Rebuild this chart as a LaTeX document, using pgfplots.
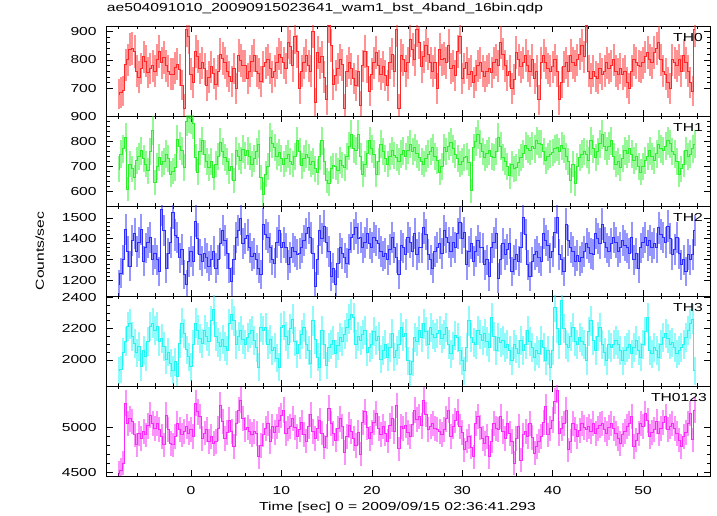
\documentclass[border=0pt]{standalone}
\usepackage{fontspec}
\setmainfont{Liberation Sans}[FakeStretch=1.35]
\usepackage{pgfplots}
\usepackage{pgfplotstable}
\pgfplotsset{compat=1.18}
\definecolor{cR}{RGB}{255,40,40}
\definecolor{cG}{RGB}{45,240,45}
\definecolor{cB}{RGB}{45,45,255}
\definecolor{cC}{RGB}{35,245,245}
\definecolor{cM}{RGB}{250,40,250}
\pgfplotstableread{
t a b c d e
-8 680 689 1180 1932 4485
-7.75 686 749 1236 1940 4520
-7.5 692 770 1300 2050 4598
-7.25 782 816 1445 2119 5275
-7 800 609 1340 2213 5050
-6.75 835 709 1268 2230 5100
-6.5 840 690 1390 2150 5070
-6.25 830 656 1425 2106 4918
-6 760 722 1340 2045 4805
-5.75 740 740 1380 2085 4930
-5.5 770 762 1445 1957 4880
-5.25 810 730 1292 2060 4960
-5 795 709 1356 2021 4918
-4.75 755 682 1380 2120 5020
-4.5 770 760 1405 2213 5143
-4.25 780 842 1300 2234 5050
-4 760 636 1330 2190 4990
-3.75 800 700 1300 2213 5050
-3.5 830 736 1244 2119 4975
-3.25 790 709 1540 2140 4900
-3 808 720 1440 2085 4805
-2.75 780 749 1260 2000 5143
-2.5 760 730 1330 2050 4980
-2.25 750 669 1380 1979 4825
-2 750 680 1525 1936 4805
-1.75 772 696 1418 1990 4900
-1.5 785 809 1405 1894 5050
-1.25 765 780 1308 2106 4975
-1 712 762 1350 2234 4918
-0.75 630 696 1228 2170 4960
-0.5 905 880 1180 2064 5012
-0.25 880 895 1290 2020 4940
0 750 890 1340 1957 4975
0.25 720 870 1292 2100 4900
0.5 830 736 1485 2234 5275
0.75 812 676 1400 2191 5180
1 770 760 1324 2140 5125
1.25 790 802 1292 2106 4880
1.5 768 749 1330 2191 4940
1.75 710 720 1308 2150 4975
2 740 696 1268 2120 4843
2.25 775 720 1300 2250 4900
2.5 752 656 1340 2319 4825
2.75 715 709 1260 2150 4843
3 760 740 1300 2110 4990
3.25 820 796 1378 2085 5255
3.5 805 760 1440 2130 5070
3.75 790 736 1390 2085 4880
4 760 720 1330 2060 4950
4.25 742 682 1260 2230 5087
4.5 725 700 1196 2290 4960
4.75 770 643 1300 2250 4787
5 700 762 1405 2100 5050
5.25 815 740 1440 2150 5200
5.5 798 722 1495 2190 5312
5.75 780 769 1378 2130 5106
6 780 745 1400 2100 4975
6.25 735 762 1418 2145 5000
6.5 760 740 1356 2170 4955
6.75 795 709 1316 2190 4920
7 815 730 1330 2125 4955
7.25 760 760 1300 2080 4937
7.5 752 789 1260 1955 4673
7.75 725 656 1228 2208 4800
8 775 589 1470 2190 4918
8.25 790 669 1420 2208 4990
8.5 800 700 1405 2100 5050
8.75 770 816 1356 2130 4843
9 740 790 1300 2060 5012
9.25 760 776 1284 2080 4950
9.5 790 740 1380 2010 5012
9.75 820 756 1440 1955 5087
10 808 730 1356 2208 5140
10.25 790 709 1380 2220 5200
10.5 770 730 1356 2150 4937
10.75 860 749 1276 2100 4990
11 845 720 1310 2200 5012
11.25 780 709 1356 2260 5106
11.5 880 740 1340 2120 5000
11.75 828 802 1324 2040 4900
12 700 760 1330 2100 4980
12.25 760 702 1356 2160 5060
12.5 790 730 1390 2208 4920
12.75 815 749 1425 2100 4850
13 780 735 1453 2060 5010
13.25 760 709 1405 1975 5150
13.5 900 720 1330 2250 4960
13.75 650 690 1172 2130 4880
14 825 676 1300 2017 4990
14.25 790 740 1440 1955 5080
14.5 810 802 1400 2190 4940
14.75 740 720 1461 2100 4780
15 660 643 1380 1965 4900
15.25 920 630 1340 2080 5220
15.5 850 690 1220 2100 5050
15.75 715 702 1260 2125 4930
16 745 700 1180 2040 4860
16.25 770 682 1284 2090 4990
16.5 800 722 1356 2145 5100
16.75 782 705 1330 2120 5010
17 630 696 1308 2160 4720
17.25 760 740 1284 2208 4900
17.5 790 780 1350 2260 5030
17.75 768 829 1405 2290 4960
18 735 770 1420 2270 4880
18.25 710 762 1453 2100 4800
18.5 760 829 1400 2150 4950
18.75 640 740 1405 2125 4700
19 780 669 1356 2160 5060
19.25 830 709 1380 2190 5180
19.5 775 750 1425 2050 5000
19.75 690 802 1378 2080 4880
20 750 770 1360 2100 4950
20.25 790 749 1405 2180 5060
20.5 825 669 1390 2125 5160
20.75 780 720 1378 2150 4990
21 750 789 1340 2006 4920
21.25 775 760 1316 2060 5010
21.5 745 730 1330 2100 4930
21.75 710 709 1300 2017 4850
22 790 740 1350 2080 5020
22.25 820 762 1405 2170 5100
22.5 760 745 1360 2017 4960
22.75 905 736 1308 2060 5250
23 630 720 1228 2100 4760
23.25 815 749 1366 2208 5012
23.5 800 762 1356 2150 4990
23.75 760 740 1324 2170 5030
24 790 765 1405 1995 4950
24.25 870 789 1380 1910 4900
24.5 835 760 1340 1990 5040
24.75 800 776 1425 2145 5200
25 905 750 1324 2120 5090
25.25 860 736 1360 2190 5125
25.5 775 720 1356 2145 5020
25.75 810 709 1453 2230 5312
26 850 730 1420 2180 5150
26.25 820 749 1324 2100 4975
26.5 790 760 1300 2208 5010
26.75 760 776 1260 2160 5050
27 790 740 1340 2145 4990
27.25 700 722 1360 2170 4975
27.5 835 676 1378 2190 4955
27.75 800 700 1330 2135 4920
28 805 776 1440 2160 4975
28.25 790 760 1405 2208 5100
28.5 850 780 1380 2100 5200
28.75 770 796 1340 2040 4900
29 780 770 1383 2090 5012
29.25 745 749 1360 2155 5080
29.5 830 730 1425 2145 5180
29.75 880 709 1477 2060 5012
30 735 720 1400 1995 4950
30.25 770 736 1430 1930 4750
30.5 790 740 1276 2080 4850
30.75 750 716 1340 2250 4900
31 760 602 1378 2145 4780
31.25 720 776 1292 2110 4673
31.5 745 800 1340 2100 5050
31.75 780 829 1390 2190 5125
32 790 790 1360 2160 5000
32.25 760 760 1356 2125 4880
32.5 742 736 1276 2170 4825
32.75 760 750 1300 2120 4900
33 770 762 1220 2080 4673
33.25 755 740 1356 2270 4850
33.5 790 736 1380 2150 5050
33.75 800 760 1425 2060 4990
34 780 816 1212 2145 4975
34.25 860 780 1300 2110 5125
34.5 820 736 1378 2125 4960
34.75 780 720 1324 2080 4880
35 745 700 1350 2100 5050
35.25 760 662 1378 2060 4930
35.5 700 709 1244 1995 4843
35.75 730 690 1300 2100 4598
36 825 696 1324 2070 4880
36.25 800 715 1292 2040 5012
36.5 775 736 1360 2125 4635
36.75 790 750 1502 2060 4918
37 815 782 1420 2100 4960
37.25 780 770 1276 2190 4900
37.5 760 762 1220 2120 5050
37.75 800 780 1290 2080 4890
38 735 770 1324 2017 4711
38.25 760 802 1340 2060 4787
38.5 660 790 1308 2040 4850
38.75 790 789 1292 2125 4900
39 815 760 1425 2080 5060
39.25 790 722 1390 1995 5237
39.5 770 740 1370 2060 4918
39.75 760 749 1308 1955 4990
40 775 756 1340 2060 5087
40.25 800 770 1430 2336 5300
40.5 760 776 1502 2200 5425
40.75 660 760 1324 2100 4937
41 720 782 1300 2380 4990
41.25 775 770 1244 2200 5050
41.5 790 740 1470 2100 5200
41.75 760 720 1390 2080 4750
42 815 643 1360 2150 4850
42.25 790 709 1340 2208 5050
42.5 780 630 1292 2120 4980
42.75 800 700 1320 2100 4900
43 820 736 1292 2145 4970
43.25 850 749 1310 2120 5050
43.5 810 760 1340 2100 5000
43.75 920 749 1378 1995 4975
44 760 722 1360 2180 5012
44.25 735 802 1330 2250 4960
44.5 760 770 1324 2125 5050
44.75 742 736 1425 2060 4937
45 735 760 1400 2150 4990
45.25 770 790 1378 2208 5030
45.5 750 829 1470 2100 5050
45.75 760 780 1380 2050 4980
46 790 762 1356 1995 4937
46.25 770 780 1340 2100 5000
46.5 780 802 1378 2080 5050
46.75 800 740 1405 2100 4990
47 760 709 1380 2125 4937
47.25 750 720 1340 2100 4880
47.5 770 696 1360 2060 4825
47.75 750 730 1390 1995 4918
48 760 762 1370 2060 4960
48.25 720 750 1356 2080 5010
48.5 700 770 1330 2100 5050
48.75 760 749 1405 2040 5125
49 800 722 1300 2080 4787
49.25 790 740 1330 2125 4860
49.5 780 700 1260 2060 4937
49.75 775 676 1356 2017 5050
50 790 700 1380 2100 5010
50.25 810 722 1405 2180 5162
50.5 825 740 1370 2270 5080
50.75 800 762 1390 2060 4900
51 790 740 1360 2040 4950
51.25 825 722 1378 2080 4975
51.5 840 750 1356 2060 5070
51.75 860 789 1453 2017 4937
52 800 770 1420 2100 4990
52.25 760 762 1405 2145 5060
52.5 750 780 1380 2170 5125
52.75 720 802 1461 2140 4975
53 700 790 1400 2100 5010
53.25 800 760 1324 2110 5050
53.5 790 749 1350 2080 4990
53.75 780 720 1405 2040 4937
54 800 669 1330 2060 4860
54.25 760 690 1276 2080 4787
54.5 815 709 1300 2100 4900
54.75 790 762 1244 2145 4950
55 760 740 1324 2190 5050
55.25 720 749 1300 2230 5162
55.5 690 770 1324 2260 4862
55.75 905 789 1440 1930 5200
}\lc
\pgfplotsset{
  panel/.style={
    width=603.3pt, height=90pt, scale only axis,
    anchor=south west,
    font=\fontsize{11.6}{14}\selectfont,
    xmin=-9.33, xmax=57.41,
    xtick distance=10, minor x tick num=4,
    tick align=inside, major tick length=6pt, minor tick length=3pt,
    axis line style={line width=0.9pt},
    every tick/.style={black, line width=0.6pt},
    /pgf/number format/assume math mode=true,
    /pgf/number format/1000 sep={},
    yticklabel style={xshift=-6pt},
    xticklabel style={yshift=-6pt},
  },
  lcurve/.style={const plot mark mid, line width=1pt, color=#1,
    error bars/.cd, y dir=both, y explicit, error mark=none,
    error bar style={color=#1, opacity=0.5, line width=2pt}},
}
\tikzset{thlab/.style={anchor=base east, inner sep=0pt, xshift=-7pt, yshift=-15.5pt, font=\fontsize{11.6}{14}\selectfont}}
\begin{document}
\fontsize{11.6}{14}\selectfont
\begin{tikzpicture}
\useasboundingbox (0,0) rectangle (717pt,516pt);
% TH0
\begin{axis}[panel, at={(106.7pt,400pt)}, ymin=604, ymax=918,
  ytick={700,800,900}, minor y tick num=4, xticklabels={},
  title={ae504091010\_20090915023641\_wam1\_bst\_4band\_16bin.qdp},
  title style={at={(axis description cs:0,1)}, anchor=base west, inner sep=0pt, yshift=8pt}]
\addplot[lcurve=cR] table[x=t, y=a, y error expr={sqrt(4*\thisrow{a})}] {\lc};
\node[thlab] at (rel axis cs:1,1) {TH0};
\end{axis}
% TH1
\begin{axis}[panel, at={(106.7pt,310pt)}, ymin=541, ymax=902,
  ytick={600,700,800,900}, minor y tick num=4, xticklabels={}]
\addplot[lcurve=cG] table[x=t, y=b, y error expr={sqrt(4*\thisrow{b})}] {\lc};
\node[thlab] at (rel axis cs:1,1) {TH1};
\end{axis}
% TH2
\begin{axis}[panel, at={(106.7pt,220pt)}, ymin=1126, ymax=1557,
  ytick={1200,1300,1400,1500}, minor y tick num=4, xticklabels={},
  ylabel={Counts/sec},
  ylabel style={at={(axis description cs:-0.111,0.5)}, anchor=center, inner sep=0pt}]
\addplot[lcurve=cB] table[x=t, y=c, y error expr={sqrt(4*\thisrow{c})}] {\lc};
\node[thlab] at (rel axis cs:1,1) {TH2};
\end{axis}
% TH3
\begin{axis}[panel, at={(106.7pt,130pt)}, ymin=1834, ymax=2408,
  ytick={2000,2200,2400}, minor y tick num=3, xticklabels={}]
\addplot[lcurve=cC] table[x=t, y=d, y error expr={sqrt(4*\thisrow{d})}] {\lc};
\node[thlab] at (rel axis cs:1,1) {TH3};
\end{axis}
% TH0123
\begin{axis}[panel, at={(106.7pt,40pt)}, ymin=4455, ymax=5471,
  ytick={4500,5000}, minor y tick num=4,
  xlabel={Time [sec] 0 = 2009/09/15 02:36:41.293},
  xlabel style={at={(axis description cs:0.482,-0.378)}, anchor=base, inner sep=0pt}]
\addplot[lcurve=cM] table[x=t, y=e, y error expr={sqrt(4*\thisrow{e})}] {\lc};
\node[thlab, xshift=4pt] at (rel axis cs:1,1) {TH0123};
\end{axis}
\end{tikzpicture}
\end{document}
